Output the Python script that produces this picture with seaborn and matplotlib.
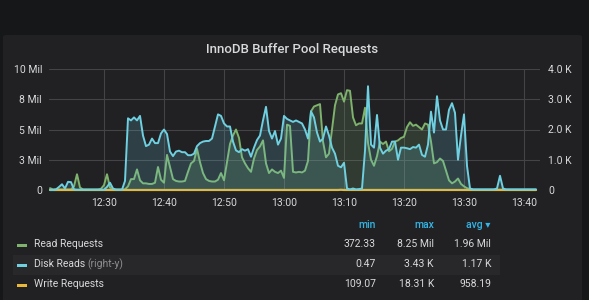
import numpy as np
import pandas as pd
import matplotlib
matplotlib.use("Agg")
import matplotlib.pyplot as plt
from matplotlib.patches import FancyBboxPatch, Rectangle
import seaborn as sns

# ---------------- data ----------------
start_time = "2024-01-01 12:21:00"
step = "30s"

# Read Requests, millions (left axis)
read_requests_mil = [
    0.15, 0.05, 0.05, 0.05, 0.05, 0.05, 0.05, 0.05, 0.3, 1.3,
    0.2, 0.05, 0.05, 0.05, 0.05, 0.05, 0.05, 0.1, 0.4, 1.3,
    0.2, 0.05, 0.05, 0.05, 0.05, 0.05, 0.3, 0.9, 0.9, 1.7,
    0.8, 0.55, 0.55, 0.5, 0.5, 0.6, 1.9, 0.85, 0.6, 2.9,
    1.9, 0.9, 0.75, 0.7, 0.7, 0.75, 1.5, 2.2, 2.4, 3.4,
    2.3, 1.4, 0.9, 0.75, 0.7, 0.7, 0.85, 1.4, 0.8, 2.3,
    3.8, 4.5, 5.0, 4.3, 2.7, 2.2, 1.8, 1.5, 2.6, 3.3,
    3.6, 4.1, 2.2, 1.4, 1.7, 1.5, 1.4, 1.6, 1.0, 5.4,
    5.3, 1.5, 1.45, 1.5, 1.45, 1.6, 2.4, 6.5, 6.9, 7.0,
    7.1, 4.0, 2.7, 3.0, 5.0, 7.0, 7.9, 8.0, 7.3, 8.25,
    8.2, 6.0, 5.35, 5.5, 5.5, 6.8, 3.9, 2.5, 2.0, 2.8,
    4.0, 3.8, 4.0, 3.2, 3.4, 4.0, 4.1, 4.3, 4.4, 5.2,
    5.6, 5.3, 5.4, 5.2, 5.0, 5.5, 5.4, 4.0, 2.2, 2.3,
    2.6, 2.4, 1.6, 0.8, 0.55, 0.7, 0.95, 0.5, 0.3, 0.15,
    0.08, 0.03, 0.03, 0.03, 0.03, 0.03, 0.03, 0.03, 0.03, 0.03,
    0.03, 0.03, 0.03, 0.03, 0.03, 0.03, 0.03, 0.03, 0.03, 0.03,
    0.03, 0.03, 0.03,
]

# Disk Reads, thousands (right axis)
disk_reads_k = [
    0.0, 0.0, 0.02, 0.1, 0.19, 0.05, 0.27, 0.26, 0.02, 0.01,
    0.01, 0.01, 0.01, 0.01, 0.01, 0.01, 0.01, 0.01, 0.01, 0.1,
    0.24, 0.05, 0.01, 0.01, 0.01, 0.3, 2.37, 2.3, 2.4, 2.3,
    2.45, 1.8, 1.45, 1.5, 1.7, 1.55, 1.55, 1.87, 2.0, 1.85,
    1.27, 1.12, 1.27, 1.3, 1.25, 1.25, 1.15, 1.15, 1.2, 1.45,
    1.55, 1.6, 1.62, 1.62, 1.7, 2.1, 2.5, 2.45, 2.2, 2.1,
    2.1, 1.6, 1.31, 1.25, 1.35, 1.3, 1.35, 1.1, 1.4, 1.65,
    1.8, 2.3, 2.75, 1.95, 1.7, 1.95, 1.5, 1.7, 2.45, 2.35,
    2.3, 2.25, 2.3, 2.25, 2.2, 2.0, 1.7, 2.6, 2.4, 1.9,
    1.6, 1.7, 2.1, 1.8, 1.4, 1.2, 0.8, 0.75, 0.9, 0.05,
    0.02, 0.05, 0.02, 0.03, 0.05, 1.3, 3.43, 1.5, 1.4, 2.48,
    1.4, 1.2, 1.3, 1.35, 1.6, 1.6, 1.0, 1.4, 1.4, 1.38,
    1.35, 1.42, 1.4, 1.5, 1.16, 1.1, 1.5, 2.59, 1.9, 3.1,
    2.3, 2.0, 2.0, 2.65, 2.87, 2.55, 1.0, 1.8, 2.5, 0.8,
    0.05, 0.02, 0.02, 0.02, 0.02, 0.02, 0.02, 0.02, 0.02, 0.05,
    0.47, 0.05, 0.02, 0.02, 0.02, 0.02, 0.02, 0.02, 0.02, 0.02,
    0.02, 0.02, 0.02,
]

# Write Requests, thousands (left axis, shown in millions)
write_requests_k = [
    0.4, 0.3, 0.3, 0.2, 0.3, 0.2, 0.3, 0.3, 0.4, 0.5,
    0.3, 0.2, 0.2, 0.2, 0.2, 0.3, 0.2, 0.2, 0.3, 0.5,
    0.3, 0.2, 0.2, 0.1, 0.2, 0.5, 1.4, 1.2, 1.3, 1.5,
    1.2, 1.0, 0.9, 0.9, 1.0, 0.9, 1.1, 1.0, 0.9, 1.3,
    1.0, 0.8, 0.8, 0.8, 0.9, 0.8, 1.0, 1.1, 1.2, 1.4,
    1.2, 1.0, 0.9, 0.9, 0.8, 0.9, 1.1, 1.2, 1.1, 1.3,
    1.6, 1.8, 2.0, 1.7, 1.3, 1.2, 1.1, 1.0, 1.3, 1.5,
    1.6, 1.8, 1.4, 1.1, 1.2, 1.1, 1.0, 1.1, 1.2, 2.1,
    2.0, 1.2, 1.1, 1.2, 1.1, 1.2, 1.5, 2.4, 2.6, 2.7,
    2.7, 1.9, 1.5, 1.6, 2.2, 2.8, 3.1, 18.31, 2.9, 3.2,
    3.1, 2.5, 2.2, 2.3, 2.3, 2.7, 2.2, 1.6, 1.4, 1.7,
    1.9, 1.8, 1.9, 1.6, 1.7, 1.9, 1.8, 1.9, 2.0, 2.2,
    2.3, 2.2, 2.2, 2.1, 2.0, 2.2, 2.1, 1.9, 1.4, 1.6,
    1.5, 1.4, 1.2, 0.8, 0.6, 0.6, 0.7, 0.5, 0.4, 0.3,
    0.2, 0.12, 0.11, 0.11, 0.12, 0.11, 0.11, 0.12, 0.11, 0.11,
    0.12, 0.11, 0.11, 0.12, 0.11, 0.11, 0.11, 0.12, 0.11, 0.11,
    0.11, 0.12, 0.11,
]

series_names = ["Read Requests", "Disk Reads", "Write Requests"]
series_colors = ["#7EB26D", "#6ED0E0", "#EAB839"]
legend_min = ["372.33", "0.47", "109.07"]
legend_max = ["8.25 Mil", "3.43 K", "18.31 K"]
legend_avg = ["1.96 Mil", "1.17 K", "958.19"]

x_ticks = ["12:30", "12:40", "12:50", "13:00", "13:10", "13:20", "13:30", "13:40"]
left_tick_values = [0, 2.5, 5, 7.5, 10]
left_tick_labels = ["0", "3 Mil", "5 Mil", "8 Mil", "10 Mil"]
right_tick_values = [0, 1, 2, 3, 4]
right_tick_labels = ["0", "1.0 K", "2.0 K", "3.0 K", "4.0 K"]
title = "InnoDB Buffer Pool Requests"

# ---------------- style ----------------
sns.set_style("dark")
plt.rcParams["font.family"] = ["Roboto", "DejaVu Sans"]

W, H = 589, 300
PAGE_BG = "#161719"
PANEL_BG = "#212124"
TEXT = "#d8d9da"
GRID = "#444447"

def fx(px):
    return px / W

def fy(py):
    return 1 - py / H

times = pd.date_range(start_time, periods=len(read_requests_mil), freq=step)
df = pd.DataFrame({
    "time": times,
    "read": read_requests_mil,
    "disk": disk_reads_k,
    "write": np.array(write_requests_k) / 1000.0,
})

fig = plt.figure(figsize=(W / 100, H / 100), dpi=100)
fig.patch.set_facecolor(PAGE_BG)
panel = FancyBboxPatch((fx(3), -0.05), fx(579), fy(35) + 0.05,
                       boxstyle="round,pad=0,rounding_size=0.006",
                       transform=fig.transFigure, facecolor=PANEL_BG,
                       edgecolor="none", zorder=-3)
fig.patches.append(panel)
fig.patches.append(Rectangle((fx(13), fy(275)), fx(487), 20 / H,
                             transform=fig.transFigure, facecolor="#28282b",
                             edgecolor="none", zorder=-2))

ax = fig.add_axes([fx(49), fy(190), fx(491), 121 / H])
ax.set_facecolor("none")
ax2 = ax.twinx()
ax2.set_facecolor("none")

# left-axis series
ax.fill_between(df["time"], df["read"], 0, color=series_colors[0], alpha=0.18, lw=0)
sns.lineplot(data=df, x="time", y="read", ax=ax, color=series_colors[0], lw=1.4,
             legend=False, clip_on=False)
sns.lineplot(data=df, x="time", y="write", ax=ax, color=series_colors[2], lw=1.6,
             legend=False, clip_on=False)
# right-axis series (drawn above)
ax2.fill_between(df["time"], df["disk"], 0, color=series_colors[1], alpha=0.18, lw=0)
sns.lineplot(data=df, x="time", y="disk", ax=ax2, color=series_colors[1], lw=1.4,
             legend=False, clip_on=False)

t0 = pd.Timestamp("2024-01-01 12:20:50")
t1 = pd.Timestamp("2024-01-01 13:42:40")
ax.set_xlim(t0, t1)
ax.set_ylim(0, 10)
ax2.set_ylim(0, 4)

tick_times = [pd.Timestamp("2024-01-01 " + t) for t in x_ticks]
ax.set_xticks(tick_times)
ax.set_xticklabels(x_ticks)
ax.set_yticks(left_tick_values)
ax.set_yticklabels(left_tick_labels)
ax2.set_yticks(right_tick_values)
ax2.set_yticklabels(right_tick_labels)

for a in (ax, ax2):
    for s in a.spines.values():
        s.set_visible(False)
    a.set_xlabel("")
    a.set_ylabel("")
ax.tick_params(axis="x", length=0, pad=6, labelsize=7.5, labelcolor=TEXT)
ax.tick_params(axis="y", length=0, pad=5, labelsize=7.5, labelcolor=TEXT)
ax2.tick_params(axis="y", length=0, pad=6, labelsize=7.5, labelcolor=TEXT)
ax.grid(True, color=GRID, lw=0.8)
ax2.grid(False)
ax.set_axisbelow(True)

# title
fig.text(fx(292), fy(49), title, ha="center", va="center", fontsize=9.5,
         color=TEXT, fontweight="medium")

# legend
hdr_color = "#33b5e5"
cols_x = [376, 434, 491]
fig.text(fx(cols_x[0]), fy(225), "min", ha="right", va="center", fontsize=7.5,
         color=hdr_color, fontweight="medium")
fig.text(fx(cols_x[1]), fy(225), "max", ha="right", va="center", fontsize=7.5,
         color=hdr_color, fontweight="medium")
fig.text(fx(cols_x[2]), fy(225), "avg \u25be", ha="right", va="center", fontsize=7.5,
         color=hdr_color, fontweight="medium")
row_y = [244, 264, 284]
for name, col, mn, mx, av, yy in zip(series_names, series_colors, legend_min,
                                     legend_max, legend_avg, row_y):
    fig.patches.append(Rectangle((fx(17), fy(yy + 3)), fx(10), 3 / H,
                                 transform=fig.transFigure, facecolor=col,
                                 edgecolor="none"))
    fig.text(fx(34), fy(yy), name, ha="left", va="center", fontsize=7.5, color=TEXT)
    for cx, val in zip(cols_x, [mn, mx, av]):
        fig.text(fx(cx), fy(yy), val, ha="right", va="center", fontsize=7.5, color=TEXT)
fig.text(fx(87), fy(row_y[1]), "(right-y)", ha="left", va="center", fontsize=7.5,
         color="#8e8e8e")

fig.savefig("out.png", dpi=100, facecolor=PAGE_BG)
